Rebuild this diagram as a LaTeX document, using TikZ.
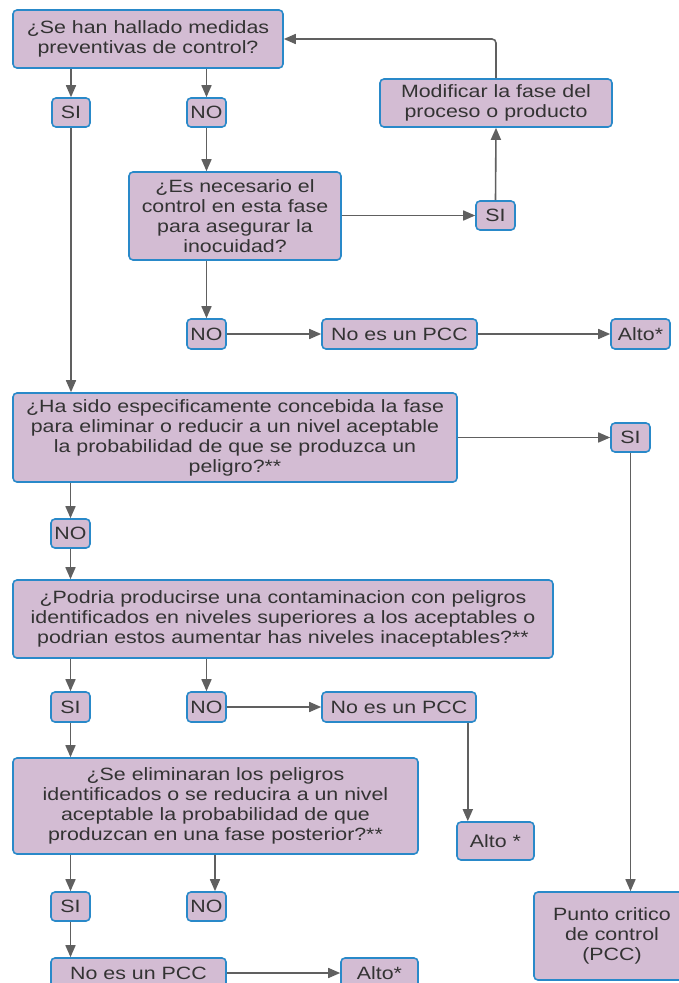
\documentclass[tikz,border=0pt]{standalone}
\usepackage{fontspec}
\setmainfont{Liberation Sans}[FakeStretch=1.2]
\usetikzlibrary{arrows.meta}
\definecolor{boxfill}{RGB}{211,188,211}
\definecolor{boxline}{RGB}{41,137,201}
\definecolor{arrowgray}{RGB}{96,96,96}
\definecolor{textgray}{RGB}{51,51,51}

\begin{document}
\begin{tikzpicture}[x=1pt, y=-1pt,
		box/.style={draw=boxline, fill=boxfill, line width=1.6pt, rounded corners=4pt,
			text=textgray, align=center, inner sep=0pt,
			font=\fontsize{17.8}{20}\selectfont},
		arr/.style={draw=arrowgray, line width=1.6pt, -{Triangle[length=12pt, width=10pt]}}]
			%%%%% START %%%%%
			
			\useasboundingbox (0, 0) rectangle (679, 983);
			
			\node[box, minimum width=270, minimum height=58] (q1) at (148, 39) {¿Se han hallado medidas\\preventivas de control?};
			\node[box, minimum width=38, minimum height=29] (si1) at (71, 112.5) {SI};
			\node[box, minimum width=39, minimum height=29] (no1) at (206.5, 112.5) {NO};
			\node[box, minimum width=212, minimum height=88] (q2) at (235, 216) {¿Es necesario el\\control en esta fase\\para asegurar la\\inocuidad?};
			\node[box, minimum width=232, minimum height=48] (mod) at (496, 103) {Modificar la fase del\\proceso o producto};
			\node[box, minimum width=39, minimum height=29] (si2) at (495.5, 215.5) {SI};
			\node[box, minimum width=39, minimum height=30] (no2) at (206.5, 334) {NO};
			\node[box, minimum width=155, minimum height=30] (pcc1) at (399.5, 334) {No es un PCC};
			\node[box, minimum width=59, minimum height=30] (alto1) at (640.5, 334) {Alto*};
			
			\node[box, minimum width=444, minimum height=89] (q3) at (235, 437.5) {¿Ha sido especificamente concebida la fase\\para eliminar o reducir a un nivel aceptable\\la probabilidad de que se produzca un\\peligro?**};
			\node[box, minimum width=39, minimum height=29] (si3) at (630.5, 437.5) {SI};
			\node[box, minimum width=39, minimum height=29] (no3) at (70.5, 533.5) {NO};
			
			\node[box, minimum width=540, minimum height=78] (q4) at (283, 619) {¿Podria producirse una contaminacion con peligros\\identificados en niveles superiores a los aceptables o\\podrian estos aumentar has niveles inaceptables?**};
			\node[box, minimum width=39, minimum height=30] (si4) at (70.5, 707) {SI};
			\node[box, minimum width=39, minimum height=30] (no4) at (206.5, 707) {NO};
			\node[box, minimum width=154, minimum height=30] (pcc2) at (399, 707) {No es un PCC};
			\node[box, minimum width=77, minimum height=38] (alto2) at (495.5, 841) {Alto *};
			
			\node[box, minimum width=405, minimum height=96] (q5) at (215.5, 806) {¿Se eliminaran los peligros\\identificados o se reducira a un nivel\\aceptable la probabilidad de que\\produzcan en una fase posterior?**};
			\node[box, minimum width=39, minimum height=29] (si5) at (70.5, 906.5) {SI};
			\node[box, minimum width=39, minimum height=29] (no5) at (206.5, 906.5) {NO};
			\node[box, minimum width=175, minimum height=30] (pcc3) at (138.5, 973) {No es un PCC};
			\node[box, minimum width=77, minimum height=30] (alto3) at (379.5, 973) {Alto*};
			\node[box, minimum width=156, minimum height=88] (pcc4) at (612, 936) {Punto critico\\de control\\(PCC)};
			
			% first question
			\draw[arr] (q1.south -| si1.north) -- (si1.north);
			\draw[arr] (q1.south -| no1.north) -- (no1.north);
			\draw[arr] (no1.south) -- (no1.south |- q2.north);
			\draw[arr] (q2.east |- si2.west) -- (si2.west);
			\draw[arr] (si2.north) -- (mod.south);
			\draw[arr, rounded corners=4pt] (mod.north) |- (q1.east);
			\draw[arr] (q2.south -| no2.north) -- (no2.north);
			\draw[arr] (no2.east) -- (pcc1.west);
			\draw[arr] (pcc1.east) -- (alto1.west);
			
			% second question
			\draw[arr] (si1.south) -- (si1.south |- q3.north);
			\draw[arr] (q3.east |- si3.west) -- (si3.west);
			\draw[arr] (q3.south -| no3.north) -- (no3.north);
			\draw[arr] (no3.south) -- (no3.south |- q4.north);
			\draw[arr] (si3.south) -- (si3.south |- pcc4.north);
			
			% third question
			\draw[arr] (q4.south -| si4.north) -- (si4.north);
			\draw[arr] (q4.south -| no4.north) -- (no4.north);
			\draw[arr] (no4.east) -- (pcc2.west);
			\draw[arr] ([xshift=-9pt]pcc2.south east) -- ([xshift=-9pt]pcc2.south east |- alto2.north);
			
			% fourth question
			\draw[arr] (si4.south) -- (si4.south |- q5.north);
			\draw[arr] (q5.south -| si5.north) -- (si5.north);
			\draw[arr] ([xshift=8.5pt]no5.north |- q5.south) -- ([xshift=8.5pt]no5.north);
			\draw[arr] (si5.south) -- (si5.south |- pcc3.north);
			\draw[arr] (pcc3.east) -- (alto3.west);
			
			%%%%% END %%%%%
\end{tikzpicture}
\end{document}
